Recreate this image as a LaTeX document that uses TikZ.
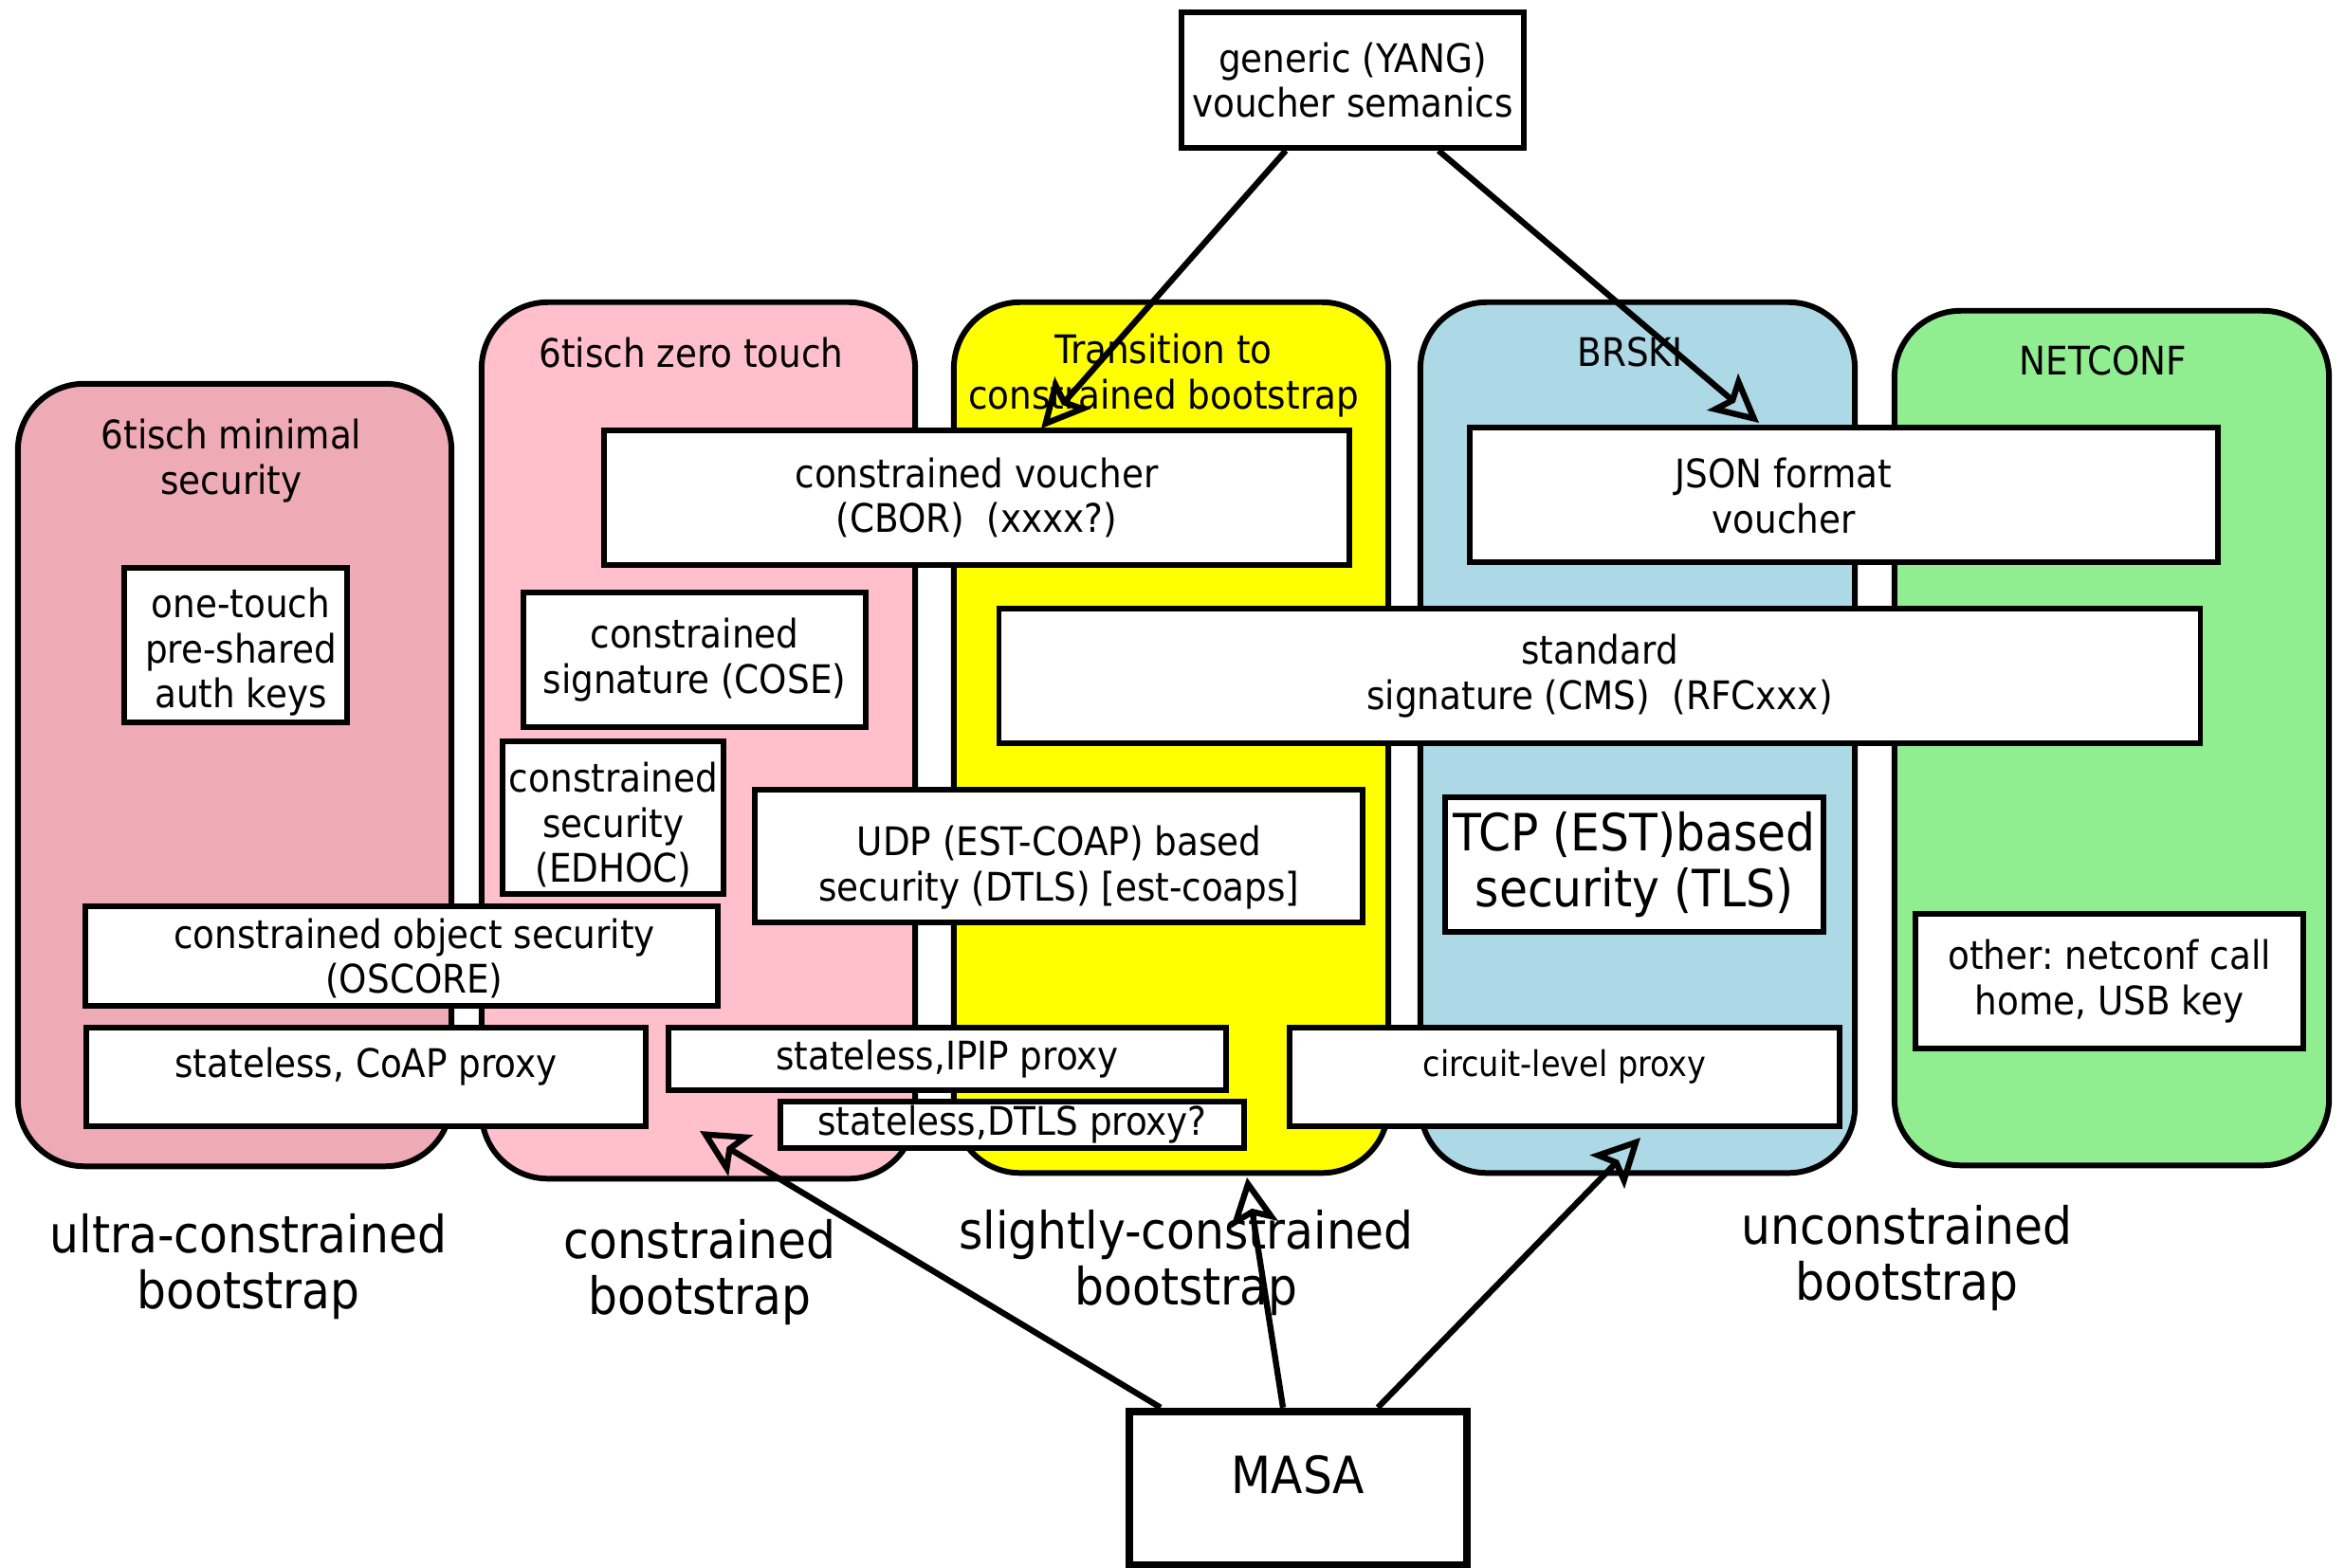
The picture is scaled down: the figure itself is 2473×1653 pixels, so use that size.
\documentclass[tikz,border=0pt]{standalone}
\usepackage{fontspec}
\setmainfont{DejaVu Sans Condensed}
\usetikzlibrary{arrows.meta}
\definecolor{minpink}{RGB}{238,170,181}
\definecolor{zeropink}{RGB}{255,192,203}
\definecolor{transyellow}{RGB}{255,255,0}
\definecolor{brskiblue}{RGB}{173,216,230}
\definecolor{netgreen}{RGB}{144,238,144}
\frenchspacing

\tikzset{
  group/.style={draw,line width=1.7pt,rounded corners=0.7cm,inner sep=0pt},
  box/.style={draw,fill=white,line width=1.6pt,align=center,inner sep=0pt},
  title/.style={align=center},
  big/.style={align=center,font=\fontsize{15.4}{17}\selectfont},
  arr/.style={->,line width=1.8pt},
}

\begin{document}
\begin{tikzpicture}[x=0.01cm,y=-0.01cm,>={Stealth[open,length=5mm,width=5mm,inset=1mm]},font=\fontsize{11.8}{13.5}\selectfont]
\useasboundingbox (0,0) rectangle (2473,1653);
% columns
\node[group,fill=minpink,minimum width=4.57cm,minimum height=8.25cm] (minsec) at (247.5,817.5) {};
\node[group,fill=zeropink,minimum width=4.57cm,minimum height=9.24cm] (zero) at (736.5,781) {};
\node[group,fill=transyellow,minimum width=4.58cm,minimum height=9.18cm] (trans) at (1235,778) {};
\node[group,fill=brskiblue,minimum width=4.58cm,minimum height=9.18cm] (brski) at (1727,778) {};
\node[group,fill=netgreen,minimum width=4.58cm,minimum height=9.01cm] (netconf) at (2227,778.5) {};
\node[title] (minsec-t) at (244,486) {6tisch minimal\\security};
\node[title] (zero-t) at (729,372) {6tisch zero touch};
\node[title] (trans-t) at (1227,396) {Transition to\\constrained bootstrap};
\node[title] (brski-t) at (1719,371) {BRSKI};
\node[title] (netconf-t) at (2218,380) {NETCONF};
% boxes
\node[box,minimum width=3.61cm,minimum height=1.43cm] (gen) at (1426.5,84.5) {generic (YANG)\\voucher semanics};
\node[box,minimum width=2.35cm,minimum height=1.63cm] (onetouch) at (248.5,680.5) {};
\node[title] (onetouch-t) at (254,688) {one-touch\\pre-shared\\auth keys};
\node[box,minimum width=7.86cm,minimum height=1.42cm] (cvoucher) at (1030,525) {constrained voucher\\(CBOR)~~(xxxx?)};
\node[box,minimum width=7.89cm,minimum height=1.42cm] (json) at (1944.5,522) {};
\node[title] (json-t) at (1881,523) {JSON format\\voucher};
\node[box,minimum width=3.61cm,minimum height=1.42cm] (cose) at (732.5,696) {constrained\\signature (COSE)};
\node[box,minimum width=12.66cm,minimum height=1.42cm] (cms) at (1687,713) {standard\\signature (CMS)~~(RFCxxx)};
\node[box,minimum width=2.33cm,minimum height=1.61cm] (edhoc) at (646.5,862.5) {};
\node[title] (edhoc-t) at (647,870) {constrained\\security\\(EDHOC)};
\node[box,minimum width=6.41cm,minimum height=1.40cm] (udp) at (1116.5,903) {};
\node[title] (udp-t) at (1117,915) {UDP (EST-COAP) based\\security (DTLS) [est-coaps]};
\node[box,big,minimum width=3.99cm,minimum height=1.42cm] (tcp) at (1723.5,912) {TCP (EST)based\\security (TLS)};
\node[box,minimum width=6.67cm,minimum height=1.05cm] (oscore) at (423.5,1008.5) {};
\node[title] (oscore-t) at (437,1011) {constrained object security\\(OSCORE)};
\node[box,minimum width=4.09cm,minimum height=1.42cm] (other) at (2224.5,1035) {other: netconf call\\home, USB key};
\node[box,minimum width=5.90cm,minimum height=1.04cm,text depth=0.3cm] (coap) at (386,1136) {stateless, CoAP proxy};
\node[box,minimum width=5.88cm,minimum height=0.66cm] (ipip) at (999,1117) {stateless,IPIP proxy};
\node[box,minimum width=4.89cm,minimum height=0.49cm] (dtls) at (1067.5,1186.5) {stateless,DTLS proxy?};
\node[box,minimum width=5.80cm,minimum height=1.04cm,text depth=0.3cm,font=\fontsize{10.6}{12}\selectfont] (circuit) at (1650,1136) {circuit-level proxy};
\node[box,big,line width=2.4pt,minimum width=3.56cm,minimum height=1.62cm,text depth=0.3cm] (masa) at (1369,1570) {MASA};
% bootstrap classes
\node[big] (ultra-l) at (262,1336) {ultra-constrained\\bootstrap};
\node[big] (constr-l) at (738,1342) {constrained\\bootstrap};
\node[big] (slight-l) at (1251,1332) {slightly-constrained\\bootstrap};
\node[big] (uncon-l) at (2011,1327) {unconstrained\\bootstrap};
% arrows
\coordinate (cvtip) at (1098,452);
\coordinate (jsontip) at (1855,446);
\coordinate (zerotip) at (738,1193);
\coordinate (transtip) at (1315,1242);
\coordinate (brskitip) at (1730,1200);
\draw[arr] ([xshift=-0.705cm]gen.south) -- (cvtip);
\draw[arr] ([xshift=0.905cm]gen.south) -- (jsontip);
\draw[arr] ([xshift=-1.45cm]masa.north) -- (zerotip);
\draw[arr] ([xshift=-0.16cm]masa.north) -- (transtip);
\draw[arr] ([xshift=0.84cm]masa.north) -- (brskitip);
\end{tikzpicture}
\end{document}
